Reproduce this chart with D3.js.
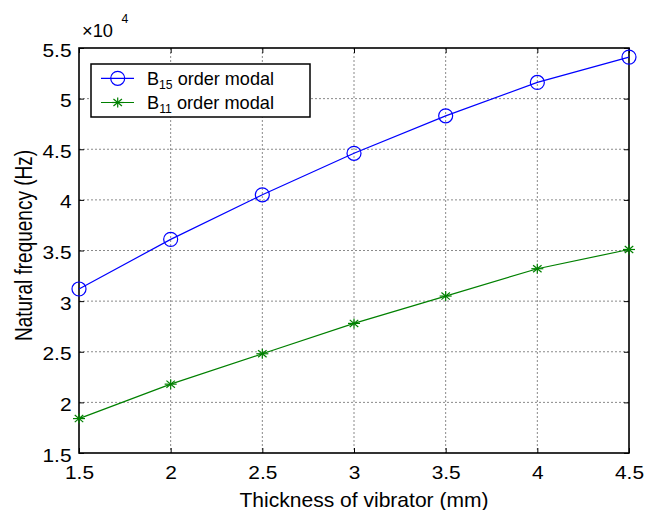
<!DOCTYPE html>
<html><head><meta charset="utf-8">
<script src="https://cdn.jsdelivr.net/npm/d3@7"></script>
<style>body{margin:0;background:#fff}svg{display:block}text{font-family:"Liberation Sans",Arial,sans-serif}</style>
</head><body><svg id="c" width="657" height="510"></svg>
<script>
const thickness = [1.5, 2, 2.5, 3, 3.5, 4, 4.5];
const b15 = [3.12, 3.61, 4.05, 4.46, 4.83, 5.16, 5.41];
const b11 = [1.84, 2.18, 2.48, 2.78, 3.05, 3.32, 3.51];
const xTicks = [1.5, 2, 2.5, 3, 3.5, 4, 4.5];
const yTicks = [1.5, 2, 2.5, 3, 3.5, 4, 4.5, 5, 5.5];
const seriesNames = ["B15 order modal", "B11 order modal"];

const svg = d3.select("#c");
const FF = '"Liberation Sans",Arial,sans-serif';
const L = 79, T = 48, R = 629, B = 453;
const x = d3.scaleLinear().domain([1.5, 4.5]).range([L, R]);
const y = d3.scaleLinear().domain([1.5, 5.5]).range([B, T]);

// grid
const g = svg.append("g");
g.selectAll(".gx").data(xTicks.slice(1, -1)).enter().append("line")
  .attr("x1", d => x(d)).attr("x2", d => x(d)).attr("y1", T).attr("y2", B)
  .attr("stroke", "#8a8a8a").attr("stroke-width", 1).attr("stroke-dasharray", "2,2");
g.selectAll(".gy").data(yTicks.slice(1, -1)).enter().append("line")
  .attr("y1", d => y(d)).attr("y2", d => y(d)).attr("x1", L).attr("x2", R)
  .attr("stroke", "#8a8a8a").attr("stroke-width", 1).attr("stroke-dasharray", "2,2");

// axes with inward ticks
const ax = svg.append("g").attr("transform", `translate(0,${B})`)
  .call(d3.axisBottom(x).tickValues(xTicks).tickSizeInner(-5).tickSizeOuter(0).tickFormat(d3.format("")));
const ax2 = svg.append("g").attr("transform", `translate(0,${T})`)
  .call(d3.axisTop(x).tickValues(xTicks).tickSizeInner(-5).tickSizeOuter(0).tickFormat(""));
const ay = svg.append("g").attr("transform", `translate(${L},0)`)
  .call(d3.axisLeft(y).tickValues(yTicks).tickSizeInner(-5).tickSizeOuter(0).tickFormat(d3.format("")));
const ay2 = svg.append("g").attr("transform", `translate(${R},0)`)
  .call(d3.axisRight(y).tickValues(yTicks).tickSizeInner(-5).tickSizeOuter(0).tickFormat(""));
[ax, ax2, ay, ay2].forEach(a => {
  a.select(".domain").remove();
  a.selectAll("line").attr("stroke", "#000");
  a.selectAll("text").attr("font-size", 19).attr("fill", "#000").style("font-family", FF);
});
ax.selectAll("text").attr("y", 26).attr("dy", null).attr("transform", "scale(1.1,1)");
ay.selectAll("text").attr("x", -7.5 / 1.1).attr("dy", null).attr("y", 8).attr("transform", "scale(1.1,1)");

svg.append("rect").attr("x", L).attr("y", T).attr("width", R - L).attr("height", B - T)
  .attr("fill", "none").attr("stroke", "#000").attr("stroke-width", 1.6);

// multiplier
svg.append("text").attr("x", 82).attr("y", 36.5).attr("font-size", 18.5)
  .attr("textLength", 31).attr("lengthAdjust", "spacingAndGlyphs").text("×10");
svg.append("text").attr("x", 121.5).attr("y", 22.5).attr("font-size", 12)
  .attr("textLength", 6.8).attr("lengthAdjust", "spacingAndGlyphs").text("4");

// titles
svg.append("text").attr("x", 364).attr("y", 506.5).attr("text-anchor", "middle")
  .attr("font-size", 21).attr("textLength", 249).attr("lengthAdjust", "spacingAndGlyphs")
  .text("Thickness of vibrator (mm)");
svg.append("text").attr("transform", `translate(31.5,245.5) rotate(-90)`).attr("text-anchor", "middle")
  .attr("font-size", 23).attr("textLength", 191).attr("lengthAdjust", "spacingAndGlyphs")
  .text("Natural frequency (Hz)");

// lines
const line = d3.line().x((d, i) => x(thickness[i])).y(d => y(d));
svg.append("path").datum(b15).attr("d", line).attr("fill", "none").attr("stroke", "#0000ff").attr("stroke-width", 1.2);
svg.append("path").datum(b11).attr("d", line).attr("fill", "none").attr("stroke", "#008000").attr("stroke-width", 1.2);

function circ(sel, cx, cy) {
  sel.append("circle").attr("cx", cx).attr("cy", cy).attr("r", 7).attr("fill", "none").attr("stroke", "#0000ff").attr("stroke-width", 1.2);
}
function star(sel, cx, cy) {
  const rx = 6, ry = 5;
  [0, 45, 90, 135].forEach(a => {
    const rad = a * Math.PI / 180;
    sel.append("line").attr("x1", cx - rx * Math.cos(rad)).attr("y1", cy - ry * Math.sin(rad))
      .attr("x2", cx + rx * Math.cos(rad)).attr("y2", cy + ry * Math.sin(rad))
      .attr("stroke", "#008000").attr("stroke-width", 1.2);
  });
}
b15.forEach((v, i) => circ(svg, x(thickness[i]), y(v)));
b11.forEach((v, i) => star(svg, x(thickness[i]), y(v)));

// legend
const lg = svg.append("g");
lg.append("rect").attr("x", 91).attr("y", 64).attr("width", 219).attr("height", 53)
  .attr("fill", "#fff").attr("stroke", "#000").attr("stroke-width", 1.5);
const rows = [{y: 78.3, c: "#0000ff", m: circ, sub: "15"}, {y: 102.5, c: "#008000", m: star, sub: "11"}];
rows.forEach((r, i) => {
  lg.append("line").attr("x1", 101).attr("x2", 134).attr("y1", r.y).attr("y2", r.y).attr("stroke", r.c).attr("stroke-width", 1.2);
  r.m(lg, 117.7, r.y);
  const t = lg.append("text").attr("x", 147).attr("y", r.y + 6.7).attr("font-size", 18.5)
    .attr("textLength", 127).attr("lengthAdjust", "spacingAndGlyphs");
  const name = seriesNames[i];
  t.append("tspan").text(name[0]);
  t.append("tspan").attr("font-size", 12.5).attr("dy", 3.5).text(r.sub);
  t.append("tspan").attr("dy", -3.5).text(name.slice(3));
});
</script></body></html>
